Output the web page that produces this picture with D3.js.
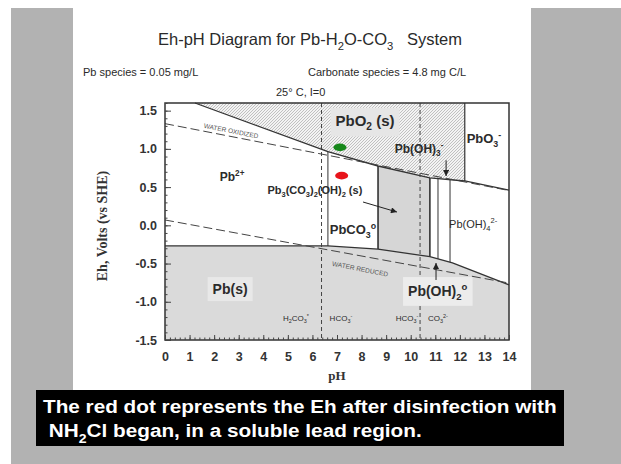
<!DOCTYPE html>
<html>
<head>
<meta charset="utf-8">
<script src="https://cdn.jsdelivr.net/npm/d3@7"></script>
<style>
  html, body { margin: 0; padding: 0; background: #fff; }
  svg { display: block; }
</style>
</head>
<body>
<svg id="chart" width="621" height="464"></svg>
<script>
// ---- data ----
const phTicks = d3.range(0, 15);
const ehTicks = [-1.5, -1.0, -0.5, 0.0, 0.5, 1.0, 1.5];
const ehTickLabels = ['-1.5', '-1.0', '-0.5', '0.0', '0.5', '1.0', '1.5'];
const phMinor = d3.range(0, 71).map(i => i / 5);
const ehMinor = d3.range(-15, 17).map(i => i / 10);

// [pH, Eh] points of the phase boundaries
const upperBoundary = [[1.22, 1.6], [6.63, 0.963], [8.67, 0.776], [10.78, 0.62], [12.2, 0.58], [14, 0.46]];
const lowerBoundary = [[0, -0.27], [6.63, -0.27], [8.67, -0.31], [10.78, -0.41], [11.7, -0.49], [14, -0.78]];
const waterOxidized = [[0, 1.33], [14, 0.455]];
const waterReduced = [[0, 0.07], [14, -0.755]];
const phaseLines = [6.63, 8.67, 10.78, 11.11, 11.6];
const solidCarbonateRange = [8.67, 10.78];
const pbo3Edge = 12.2;
const carbonatePk = [6.37, 10.38];

const dotPh = [7.12, 7.19];
const dotEh = [1.02, 0.65];
const dotColors = ['#16881a', '#e8141b'];

const regionLabels = [
  { text: 'PbO_{2}  (s)', ph: 8.14, eh: 1.30, size: 15, box: '#e6e6e6' },
  { text: 'PbO_{3}^{-}', ph: 12.98, eh: 1.08, size: 13 },
  { text: 'Pb(OH)_{3}^{-}', ph: 10.34, eh: 0.95, size: 12 },
  { text: 'Pb^{2+}', ph: 2.73, eh: 0.58, size: 12 },
  { text: 'Pb_{3}(CO_{3})_{2}(OH)_{2}  (s)', ph: 6.1, eh: 0.41, size: 11 },
  { text: 'PbCO_{3}^{o}', ph: 7.65, eh: -0.11, size: 13 },
  { text: 'Pb(OH)_{4}^{2-}', ph: 12.54, eh: -0.03, size: 11, weight: 'normal' },
  { text: 'Pb(s)', ph: 2.65, eh: -0.90, size: 14, box: '#e8e8e8' },
  { text: 'Pb(OH)_{2}^{o}', ph: 11.1, eh: -0.92, size: 14, box: '#ececec' },
  { text: 'H_{2}CO_{3}^{*}', ph: 5.33, eh: -1.25, size: 8, weight: 'normal' },
  { text: 'HCO_{3}^{-}', ph: 7.16, eh: -1.25, size: 8, weight: 'normal' },
  { text: 'HCO_{3}^{-}', ph: 9.85, eh: -1.25, size: 8, weight: 'normal' },
  { text: 'CO_{3}^{2-}', ph: 11.11, eh: -1.25, size: 8, weight: 'normal' }
];

const arrows = [
  [[11.44, 0.85], [11.44, 0.645]],
  [[8.06, 0.305], [9.44, 0.174]],
  [[11.03, -0.715], [11.03, -0.493]]
];

// ---- layout ----
const svg = d3.select('#chart');
const x = d3.scaleLinear().domain([0, 14]).range([165, 509]);
const y = d3.scaleLinear().domain([-1.5, 1.6]).range([340, 103]);
const line = d3.line().x(d => x(d[0])).y(d => y(d[1]));

function at(boundary, ph) {
  for (let i = 1; i < boundary.length; i++) {
    const a = boundary[i - 1], b = boundary[i];
    if (ph <= b[0]) return a[1] + (b[1] - a[1]) * (ph - a[0]) / (b[0] - a[0]);
  }
  return boundary[boundary.length - 1][1];
}

function rich(sel, str, size) {
  const re = /([_^])\{([^}]*)\}|([^_^]+)/g;
  let m, shift = 0;
  while ((m = re.exec(str))) {
    if (m[3]) {
      sel.append('tspan').attr('dy', -shift).text(m[3]);
      shift = 0;
    } else {
      const s = m[1] === '_' ? size * 0.3 : -size * 0.4;
      sel.append('tspan').attr('dy', s - shift).attr('font-size', size * 0.68).text(m[2]);
      shift = s;
    }
  }
}

// background
svg.append('rect').attr('width', 621).attr('height', 464).attr('fill', '#fff');
svg.append('rect').attr('x', 11).attr('y', 8).attr('width', 610).attr('height', 456).attr('fill', '#b2b2b2');
svg.append('rect').attr('x', 73).attr('y', 0).attr('width', 458).attr('height', 390).attr('fill', '#fff');

const defs = svg.append('defs');
const pat = defs.append('pattern').attr('id', 'hatch')
  .attr('patternUnits', 'userSpaceOnUse').attr('width', 3).attr('height', 3);
pat.append('rect').attr('width', 3).attr('height', 3).attr('fill', '#f3f3f3');
pat.append('path').attr('d', 'M-1,1 L1,-1 M0,3 L3,0 M2,4 L4,2')
  .attr('stroke', '#ababab').attr('stroke-width', 0.7);
defs.append('marker').attr('id', 'arrow').attr('viewBox', '0 0 10 10')
  .attr('refX', 10).attr('refY', 5).attr('markerWidth', 7).attr('markerHeight', 6)
  .attr('orient', 'auto')
  .append('path').attr('d', 'M0,0 L10,5 L0,10 z').attr('fill', '#222');

// titles
const title = svg.append('text').attr('x', 310).attr('y', 45).attr('text-anchor', 'middle')
  .attr('font-family', 'Liberation Sans, Arial, sans-serif').attr('font-size', 16.5).attr('fill', '#2a2a2a');
rich(title, 'Eh-pH Diagram for Pb-H_{2}O-CO_{3}', 16.5);
title.append('tspan').attr('dy', -16.5 * 0.3).text('\u00a0\u00a0\u00a0System');

const sub = svg.append('g').attr('font-family', 'Liberation Sans, Arial, sans-serif')
  .attr('font-size', 11).attr('fill', '#2a2a2a');
sub.append('text').attr('x', 83).attr('y', 76).text('Pb species = 0.05 mg/L');
sub.append('text').attr('x', 308).attr('y', 76).text('Carbonate species = 4.8 mg C/L');
sub.append('text').attr('x', 276).attr('y', 96).text('25\u00b0 C, I=0');

// plot regions
const plot = svg.append('g');
const hatched = upperBoundary.filter(d => d[0] <= pbo3Edge);
plot.append('path')
  .attr('d', line([[hatched[0][0], 1.6], [pbo3Edge, 1.6], ...hatched.slice().reverse()]) + 'Z')
  .attr('fill', 'url(#hatch)');

plot.append('path')
  .attr('d', line([...lowerBoundary, [14, -1.5], [0, -1.5]]) + 'Z')
  .attr('fill', '#dadada');

const [c0, c1] = solidCarbonateRange;
const boxTop = [[c0, at(upperBoundary, c0)], ...upperBoundary.filter(d => d[0] > c0 && d[0] < c1), [c1, at(upperBoundary, c1)]];
const boxBot = [[c1, at(lowerBoundary, c1)], ...lowerBoundary.filter(d => d[0] > c0 && d[0] < c1).reverse(), [c0, at(lowerBoundary, c0)]];
plot.append('path').attr('d', line([...boxTop, ...boxBot]) + 'Z').attr('fill', '#d6d6d6');

const labelG = svg.append('g').attr('font-family', 'Liberation Sans, Arial, sans-serif').attr('fill', '#2b2b2b');

// boundary lines
plot.append('path').attr('d', line(upperBoundary)).attr('fill', 'none').attr('stroke', '#333').attr('stroke-width', 1.3);
plot.append('path').attr('d', line(lowerBoundary)).attr('fill', 'none').attr('stroke', '#333').attr('stroke-width', 1.3);
plot.selectAll('line.phase').data(phaseLines).join('line')
  .attr('x1', d => x(d)).attr('x2', d => x(d))
  .attr('y1', d => y(at(upperBoundary, d))).attr('y2', d => y(at(lowerBoundary, d)))
  .attr('stroke', '#333').attr('stroke-width', d => (d === c0 || d === c1) ? 1.6 : 1);
plot.append('line').attr('x1', x(pbo3Edge)).attr('x2', x(pbo3Edge))
  .attr('y1', y(at(upperBoundary, pbo3Edge))).attr('y2', y(1.6))
  .attr('stroke', '#333').attr('stroke-width', 1.2);

// water lines
[waterOxidized, waterReduced].forEach(w => {
  plot.append('path').attr('d', line(w)).attr('fill', 'none')
    .attr('stroke', '#444').attr('stroke-width', 1).attr('stroke-dasharray', '9,4');
});
plot.selectAll('line.pk').data(carbonatePk).join('line')
  .attr('x1', d => x(d)).attr('x2', d => x(d)).attr('y1', y(1.6)).attr('y2', y(-1.5))
  .attr('stroke', '#444').attr('stroke-width', 1).attr('stroke-dasharray', '4,3');

const waterAngle = Math.atan2(y(waterOxidized[1][1]) - y(waterOxidized[0][1]), x(14) - x(0)) * 180 / Math.PI;
[['WATER OXIDIZED', 2.69, 1.235], ['WATER REDUCED', 7.94, -0.57]].forEach(([t, ph, eh]) => {
  svg.append('text').attr('transform', `translate(${x(ph)},${y(eh)}) rotate(${waterAngle})`)
    .attr('text-anchor', 'middle').attr('dy', '0.35em')
    .attr('font-family', 'Liberation Sans, Arial, sans-serif').attr('font-size', 6.5)
    .attr('fill', '#555').text(t);
});

// region labels
regionLabels.forEach(l => {
  const t = labelG.append('text').attr('x', x(l.ph)).attr('y', y(l.eh)).attr('dy', '0.35em')
    .attr('text-anchor', 'middle').attr('font-size', l.size)
    .attr('font-weight', l.weight || 'bold');
  rich(t, l.text, l.size);
  if (l.box) {
    const bb = t.node().getBBox();
    labelG.insert('rect', 'text').attr('x', bb.x - 5).attr('y', bb.y - 4)
      .attr('width', bb.width + 10).attr('height', bb.height + 8).attr('fill', l.box);
  }
});

// arrows
arrows.forEach(a => {
  svg.append('path').attr('d', line(a)).attr('stroke', '#222').attr('stroke-width', 1)
    .attr('fill', 'none').attr('marker-end', 'url(#arrow)');
});

// dots
svg.selectAll('ellipse.dot').data(dotPh).join('ellipse')
  .attr('cx', d => x(d)).attr('cy', (d, i) => y(dotEh[i]))
  .attr('rx', 6.5).attr('ry', 3.8).attr('fill', (d, i) => dotColors[i]);

// frame and axes
svg.append('rect').attr('x', x(0)).attr('y', y(1.6)).attr('width', x(14) - x(0)).attr('height', y(-1.5) - y(1.6))
  .attr('fill', 'none').attr('stroke', '#333').attr('stroke-width', 1.5);

const axisFont = g => g.attr('font-family', 'Liberation Sans, Arial, sans-serif')
  .attr('font-size', 12.5).attr('font-weight', 'bold');

const xMinor = svg.append('g').attr('transform', `translate(0,${y(-1.5)})`)
  .call(d3.axisBottom(x).tickValues(phMinor).tickSize(-2.5).tickFormat(''));
const xAxis = svg.append('g').attr('transform', `translate(0,${y(-1.5)})`)
  .call(d3.axisBottom(x).tickValues(phTicks).tickSize(-5).tickPadding(12).tickFormat(d3.format('d')))
  .call(axisFont);
const yMinor = svg.append('g').attr('transform', `translate(${x(0)},0)`)
  .call(d3.axisLeft(y).tickValues(ehMinor).tickSize(-2.5).tickFormat(''));
const yAxis = svg.append('g').attr('transform', `translate(${x(0)},0)`)
  .call(d3.axisLeft(y).tickValues(ehTicks).tickSize(-6).tickPadding(8).tickFormat((d, i) => ehTickLabels[i]))
  .call(axisFont);
[xMinor, xAxis, yMinor, yAxis].forEach(g => {
  g.select('.domain').remove();
  g.selectAll('line').attr('stroke', '#444');
  g.selectAll('text').attr('fill', '#333');
});

svg.append('text').attr('transform', 'translate(107,226) rotate(-90)').attr('text-anchor', 'middle')
  .attr('font-family', 'Liberation Serif, Times New Roman, serif').attr('font-weight', 'bold')
  .attr('font-size', 14).attr('fill', '#333').text('Eh, Volts (vs SHE)');
svg.append('text').attr('x', 337).attr('y', 380).attr('text-anchor', 'middle')
  .attr('font-family', 'Liberation Serif, Times New Roman, serif').attr('font-weight', 'bold')
  .attr('font-size', 13).attr('fill', '#333').text('pH');

// caption
svg.append('rect').attr('x', 36).attr('y', 390).attr('width', 528).attr('height', 56).attr('fill', '#000');
const cap = svg.append('g').attr('font-family', 'Liberation Sans, Arial, sans-serif')
  .attr('font-weight', 'bold').attr('font-size', 19).attr('fill', '#fff');
const l1 = cap.append('text').attr('x', 0).attr('y', 413).text('The red dot represents the Eh after disinfection with');
const l2 = cap.append('text').attr('x', 0).attr('y', 437);
rich(l2, '\u00a0NH_{2}Cl began, in a soluble lead region.', 19);
const sx = 514 / l1.node().getComputedTextLength();
cap.attr('transform', `translate(43,0) scale(${sx},1)`);
</script>
</body>
</html>
